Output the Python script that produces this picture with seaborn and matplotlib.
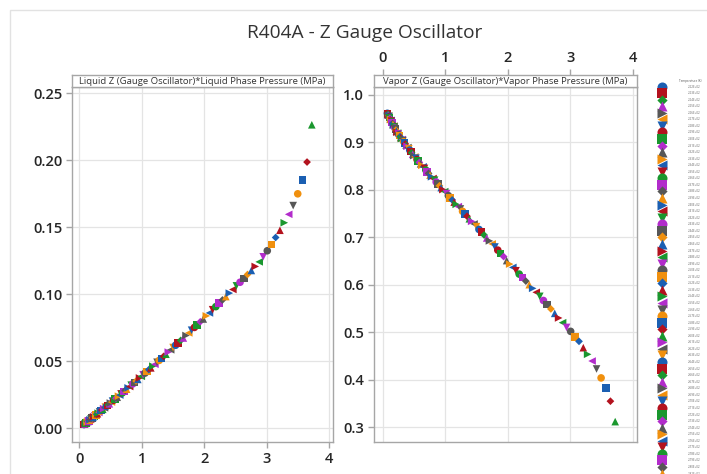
import matplotlib
matplotlib.use("Agg")
import matplotlib.pyplot as plt
from matplotlib.patches import Rectangle
from matplotlib.markers import MarkerStyle
from matplotlib.transforms import Affine2D
import seaborn as sns
import pandas as pd

# Saturation temperature of each measurement (K)
temperature_k = [
    222, 223, 224, 225, 226, 227, 228, 229, 230, 231,
    232, 233, 234, 235, 236, 237, 238, 239, 240, 241,
    242, 243, 244, 245, 246, 247, 248, 249, 250, 251,
    252, 253, 254, 255, 256, 257, 258, 259, 260, 261,
    262, 263, 264, 265, 266, 267, 268, 269, 270, 271,
    272, 273, 274, 275, 276, 277, 278, 279, 280, 281,
    282, 283, 284, 285, 286, 287, 288, 289, 290, 291,
    292, 293, 294, 295, 296, 297, 298, 299, 300, 301,
    302, 303, 304, 305, 306, 307, 308, 309, 310, 311,
    312, 313, 314, 315, 316, 317, 318, 319, 320, 321,
    322, 323, 324, 325, 326, 327, 328, 329, 330, 331,
    332, 333, 334, 335, 336, 337, 338, 339, 340, 341,
    342, 343, 344,
]

# Phase pressure (MPa)
pressure_mpa = [
    0.0752, 0.0790, 0.0830, 0.0871, 0.0914, 0.0958, 0.1005, 0.1053, 0.1103, 0.1155,
    0.1208, 0.1264, 0.1322, 0.1382, 0.1444, 0.1509, 0.1576, 0.1645, 0.1716, 0.1790,
    0.1867, 0.1946, 0.2028, 0.2112, 0.2200, 0.2290, 0.2383, 0.2479, 0.2578, 0.2680,
    0.2786, 0.2895, 0.3007, 0.3122, 0.3241, 0.3364, 0.3490, 0.3620, 0.3754, 0.3891,
    0.4033, 0.4178, 0.4328, 0.4482, 0.4639, 0.4802, 0.4969, 0.5140, 0.5316, 0.5496,
    0.5681, 0.5871, 0.6066, 0.6266, 0.6471, 0.6680, 0.6896, 0.7116, 0.7343, 0.7574,
    0.7811, 0.8053, 0.8302, 0.8557, 0.8816, 0.9083, 0.9355, 0.9634, 0.9918, 1.0209,
    1.0507, 1.0811, 1.1123, 1.1440, 1.1765, 1.2096, 1.2435, 1.2780, 1.3133, 1.3492,
    1.3860, 1.4235, 1.4617, 1.5007, 1.5405, 1.5811, 1.6224, 1.6646, 1.7076, 1.7514,
    1.7961, 1.8416, 1.8878, 1.9350, 1.9832, 2.0320, 2.0820, 2.1326, 2.1841, 2.2367,
    2.2902, 2.3446, 2.4001, 2.4565, 2.5136, 2.5718, 2.6311, 2.6912, 2.7525, 2.8148,
    2.8780, 2.9423, 3.0075, 3.0738, 3.1412, 3.2098, 3.2792, 3.3502, 3.4216, 3.4946,
    3.5684, 3.6437, 3.7200,
]

# Compressibility factor of the saturated liquid
z_liquid = [
    0.0028, 0.0029, 0.0031, 0.0032, 0.0034, 0.0036, 0.0037, 0.0039, 0.0041, 0.0043,
    0.0045, 0.0047, 0.0049, 0.0052, 0.0054, 0.0056, 0.0059, 0.0061, 0.0064, 0.0067,
    0.0070, 0.0073, 0.0076, 0.0079, 0.0082, 0.0086, 0.0089, 0.0093, 0.0097, 0.0101,
    0.0105, 0.0109, 0.0113, 0.0118, 0.0122, 0.0127, 0.0132, 0.0137, 0.0142, 0.0147,
    0.0153, 0.0158, 0.0164, 0.0170, 0.0176, 0.0183, 0.0189, 0.0196, 0.0203, 0.0210,
    0.0217, 0.0224, 0.0232, 0.0240, 0.0248, 0.0257, 0.0265, 0.0274, 0.0283, 0.0292,
    0.0302, 0.0312, 0.0322, 0.0332, 0.0343, 0.0353, 0.0365, 0.0376, 0.0388, 0.0400,
    0.0412, 0.0425, 0.0438, 0.0451, 0.0464, 0.0478, 0.0493, 0.0507, 0.0522, 0.0537,
    0.0553, 0.0569, 0.0586, 0.0603, 0.0620, 0.0638, 0.0656, 0.0674, 0.0693, 0.0712,
    0.0732, 0.0753, 0.0773, 0.0795, 0.0816, 0.0839, 0.0861, 0.0885, 0.0908, 0.0933,
    0.0958, 0.0983, 0.1009, 0.1036, 0.1063, 0.1090, 0.1119, 0.1148, 0.1178, 0.1208,
    0.1242, 0.1280, 0.1325, 0.1372, 0.1424, 0.1478, 0.1534, 0.1597, 0.1662, 0.1750,
    0.1853, 0.1987, 0.2265,
]

# Compressibility factor of the saturated vapor
z_vapor = [
    0.9610, 0.9600, 0.9590, 0.9579, 0.9568, 0.9556, 0.9544, 0.9531, 0.9518, 0.9505,
    0.9491, 0.9476, 0.9461, 0.9446, 0.9430, 0.9413, 0.9395, 0.9377, 0.9359, 0.9340,
    0.9320, 0.9299, 0.9278, 0.9256, 0.9233, 0.9211, 0.9194, 0.9176, 0.9158, 0.9139,
    0.9119, 0.9099, 0.9079, 0.9058, 0.9036, 0.9013, 0.8990, 0.8966, 0.8941, 0.8916,
    0.8890, 0.8863, 0.8835, 0.8807, 0.8778, 0.8748, 0.8719, 0.8692, 0.8665, 0.8636,
    0.8607, 0.8577, 0.8547, 0.8515, 0.8483, 0.8450, 0.8416, 0.8381, 0.8346, 0.8309,
    0.8274, 0.8238, 0.8202, 0.8164, 0.8125, 0.8086, 0.8046, 0.8004, 0.7962, 0.7920,
    0.7877, 0.7832, 0.7787, 0.7741, 0.7694, 0.7646, 0.7597, 0.7547, 0.7496, 0.7444,
    0.7390, 0.7336, 0.7281, 0.7224, 0.7166, 0.7107, 0.7048, 0.6986, 0.6924, 0.6861,
    0.6796, 0.6730, 0.6663, 0.6594, 0.6510, 0.6436, 0.6366, 0.6296, 0.6225, 0.6152,
    0.6078, 0.6003, 0.5926, 0.5842, 0.5757, 0.5670, 0.5582, 0.5492, 0.5399, 0.5302,
    0.5203, 0.5103, 0.5020, 0.4907, 0.4810, 0.4676, 0.4537, 0.4396, 0.4228, 0.4040,
    0.3830, 0.3550, 0.3120,
]

x_ticks = [0, 1, 2, 3, 4]
liquid_ticks = [0.00, 0.05, 0.10, 0.15, 0.20, 0.25]
vapor_ticks = [0.3, 0.4, 0.5, 0.6, 0.7, 0.8, 0.9, 1.0]

title = "R404A - Z Gauge Oscillator"
liquid_header = "Liquid Z (Gauge Oscillator)*Liquid Phase Pressure (MPa)"
vapor_header = "Vapor Z (Gauge Oscillator)*Vapor Phase Pressure (MPa)"
legend_title = "Temperature (K)"

# Marker and colour cycles used for the temperature groups
small_diamond = MarkerStyle("D", transform=Affine2D().scale(0.72))
marker_cycle = ["o", "s", small_diamond, "^", ">", "<", "v"]
color_cycle = ["#1b5fb2", "#b3121e", "#1a972e", "#b22ccb", "#575757", "#f0900e"]

sns.set_theme(style="ticks")
plt.rcParams["font.family"] = ["Open Sans", "DejaVu Sans"]

labels = [f"{t:.2E}" for t in temperature_k]
df = pd.DataFrame({
    "temperature": labels,
    "pressure": pressure_mpa,
    "z_liquid": z_liquid,
    "z_vapor": z_vapor,
})
palette = {lab: color_cycle[i % len(color_cycle)] for i, lab in enumerate(labels)}
markers = {lab: marker_cycle[i % len(marker_cycle)] for i, lab in enumerate(labels)}

W, H = 707, 474
fig = plt.figure(figsize=(W / 100, H / 100), dpi=100)
fig.patch.set_facecolor("white")


def box(x0, y0, x1, y1):
    """Axes rectangle from pixel edges measured from the top-left corner."""
    return [x0 / W, 1 - y1 / H, (x1 - x0) / W, (y1 - y0) / H]


frame_col = "#a6a6a6"
grid_col = "#e4e4e4"
text_col = "#262626"

# light outer frame of the report
fig.add_artist(Rectangle((10 / W, -0.2), 2, 1 - 10 / H + 0.2, transform=fig.transFigure,
                         fill=False, edgecolor="#e2e2e2", lw=1.0))

fig.text(365 / W, 1 - 33 / H, title, ha="center", va="center",
         fontsize=13.8, color="#333333")


def style_axes(ax):
    for sp in ax.spines.values():
        sp.set_color(frame_col)
        sp.set_linewidth(1.0)
    ax.grid(True, color=grid_col, lw=0.9)
    ax.set_axisbelow(True)
    ax.set_xlabel("")
    ax.set_ylabel("")


def header(rect, text, xlim):
    h = fig.add_axes(rect)
    h.set_xlim(*xlim)
    h.set_ylim(0, 1)
    h.set_yticks([])
    for sp in h.spines.values():
        sp.set_color(frame_col)
        sp.set_linewidth(1.0)
    h.text(0.5, 0.45, text, transform=h.transAxes, ha="center", va="center",
           fontsize=6.8, color="#333333")
    return h


tick_kw = dict(length=4, width=1, color=frame_col, labelsize=10.5,
               labelcolor=text_col, pad=3)

# ---- liquid panel ----
xlim_l = (-0.117, 4.059)
ax1 = fig.add_axes(box(72, 87, 333, 442))
sns.scatterplot(data=df, x="pressure", y="z_liquid", hue="temperature",
                style="temperature", palette=palette, markers=markers,
                s=30, linewidth=0, edgecolor="none", legend=False, ax=ax1)
ax1.set_xlim(*xlim_l)
ax1.set_ylim(-0.0102, 0.2547)
ax1.set_xticks(x_ticks)
ax1.set_xticklabels([str(v) for v in x_ticks])
ax1.set_yticks(liquid_ticks)
ax1.set_yticklabels([f"{v:.2f}" for v in liquid_ticks])
style_axes(ax1)
ax1.tick_params(axis="both", **tick_kw)
for lab in ax1.get_xticklabels() + ax1.get_yticklabels():
    lab.set_fontweight("semibold")
h1 = header(box(72, 75, 333, 87), liquid_header, xlim_l)
h1.set_xticks([])

# ---- vapor panel ----
xlim_v = (-0.139, 4.069)
ax2 = fig.add_axes(box(374, 87, 637, 442))
sns.scatterplot(data=df, x="pressure", y="z_vapor", hue="temperature",
                style="temperature", palette=palette, markers=markers,
                s=30, linewidth=0, edgecolor="none", legend=False, ax=ax2)
ax2.set_xlim(*xlim_v)
ax2.set_ylim(0.2691, 1.0164)
ax2.set_xticks(x_ticks)
ax2.set_yticks(vapor_ticks)
ax2.set_yticklabels([f"{v:.1f}" for v in vapor_ticks])
style_axes(ax2)
ax2.tick_params(axis="y", **tick_kw)
ax2.tick_params(axis="x", bottom=False, labelbottom=False)
for lab in ax2.get_yticklabels():
    lab.set_fontweight("semibold")
h2 = header(box(374, 75, 637, 87), vapor_header, xlim_v)
h2.set_xticks(x_ticks)
h2.xaxis.tick_top()
h2.tick_params(axis="x", top=True, bottom=False, labeltop=True,
               labelbottom=False, **tick_kw)
for lab in h2.get_xticklabels():
    lab.set_fontweight("semibold")

# ---- temperature legend (one row per group; it runs past the page bottom) ----
leg = fig.add_axes(box(640, 75, 707, 474))
leg.set_xlim(640, 707)
leg.set_ylim(474, 75)
leg.axis("off")
leg.text(690, 81, legend_title, fontsize=2.2, color="#555555", ha="center", va="center")
row_step = 6.56
for i, lab in enumerate(labels):
    yy = 86.5 + row_step * i
    leg.scatter([662], [yy], marker=markers[lab], color=palette[lab], s=52,
                linewidths=0)
    leg.text(688, yy, lab, fontsize=2.2, color="#666666", ha="left", va="center")

fig.savefig("out.png", dpi=100, facecolor="white")
